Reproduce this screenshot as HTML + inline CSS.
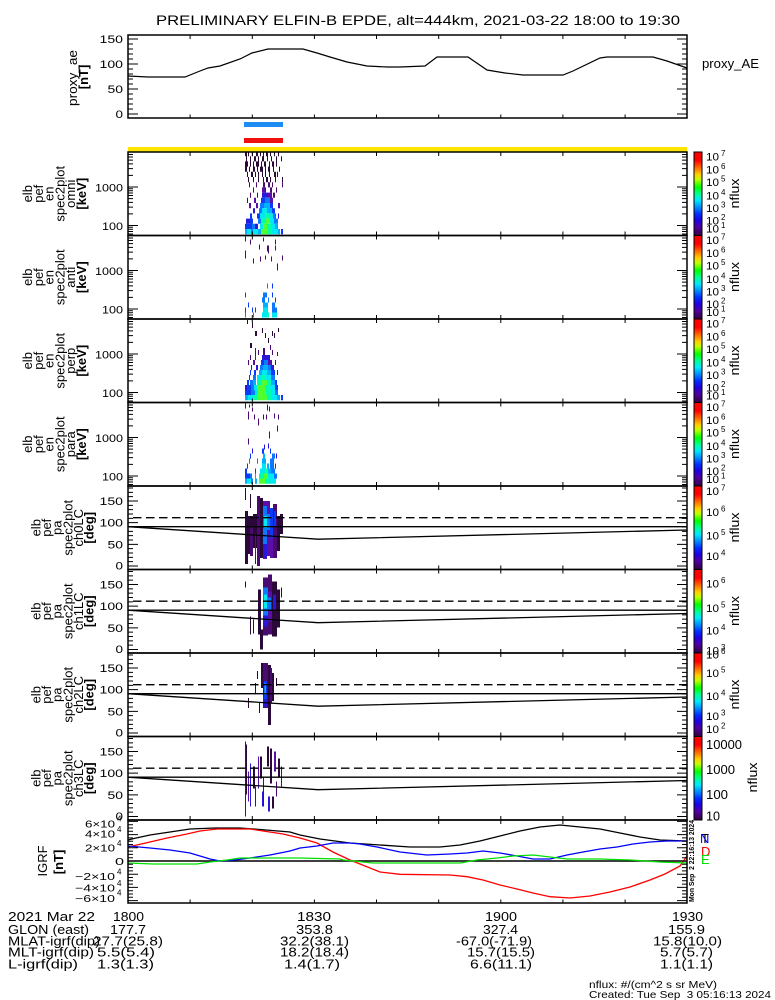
<!DOCTYPE html>
<html><head><meta charset="utf-8"><style>
html,body{margin:0;padding:0;background:#fff;}
svg{display:block;}
text{font-family:"Liberation Sans",sans-serif;fill:#000;}
.k0{fill:#2a0838}.k1{fill:#4a0a70}.k2{fill:#5a10a8}.k3{fill:#2a18d8}.k4{fill:#0a3cf8}
.k5{fill:#0a78ff}.k6{fill:#00b0ff}.k7{fill:#00e8f0}.k8{fill:#00ffa8}.k9{fill:#50ff30}
.rl{font-size:13px;text-anchor:middle;}
.ub{font-size:13px;text-anchor:middle;font-weight:bold;}
.tl{font-size:11px;text-anchor:end;}
.cb{font-size:11px;}
.ce{font-size:8px;}
.ie{font-size:8px;}
.nf{font-size:13px;text-anchor:middle;}
.bt{font-size:13px;}
</style></head><body>
<svg width="775" height="1000" viewBox="0 0 775 1000" xmlns="http://www.w3.org/2000/svg">
<defs>
<linearGradient id="cb" x1="0" y1="0" x2="0" y2="1">
<stop offset="0" stop-color="#ff0000"/>
<stop offset="0.10" stop-color="#ff0000"/>
<stop offset="0.18" stop-color="#ff6000"/>
<stop offset="0.27" stop-color="#ffd000"/>
<stop offset="0.33" stop-color="#c0ff00"/>
<stop offset="0.42" stop-color="#00ff00"/>
<stop offset="0.50" stop-color="#00ff90"/>
<stop offset="0.58" stop-color="#00e8ff"/>
<stop offset="0.66" stop-color="#0090ff"/>
<stop offset="0.74" stop-color="#0030ff"/>
<stop offset="0.82" stop-color="#2000e0"/>
<stop offset="0.90" stop-color="#5000a0"/>
<stop offset="1" stop-color="#300040"/>
</linearGradient>
<path id="tx" d="M190.1 0v4M252.3 0v4M314.4 0v4M376.5 0v4M438.7 0v4M500.8 0v4M562.9 0v4M625.1 0v4M190.1 83.5v-4M252.3 83.5v-4M314.4 83.5v-4M376.5 83.5v-4M438.7 83.5v-4M500.8 83.5v-4M562.9 83.5v-4M625.1 83.5v-4"/>
<path id="te" d="M128 73.5h10M128 35h10M128 82.05h5M128 79.46h5M128 77.23h5M128 75.26h5M128 61.91h5M128 55.13h5M128 50.32h5M128 46.59h5M128 43.55h5M128 40.97h5M128 38.73h5M128 36.77h5M128 23.41h5M128 16.63h5M128 11.82h5M128 8.09h5M128 5.05h5M128 2.47h5M687 73.5h-10M687 35h-10M687 82.05h-5M687 79.46h-5M687 77.23h-5M687 75.26h-5M687 61.91h-5M687 55.13h-5M687 50.32h-5M687 46.59h-5M687 43.55h-5M687 40.97h-5M687 38.73h-5M687 36.77h-5M687 23.41h-5M687 16.63h-5M687 11.82h-5M687 8.09h-5M687 5.05h-5M687 2.47h-5"/>
<path id="tp" d="M128 80h10M128 58.33h10M128 36.67h10M128 15h10M128 75.67h5M128 71.33h5M128 67h5M128 62.67h5M128 54h5M128 49.67h5M128 45.33h5M128 41h5M128 32.33h5M128 28h5M128 23.67h5M128 19.33h5M128 10.67h5M128 6.33h5M128 2h5M687 80h-10M687 58.33h-10M687 36.67h-10M687 15h-10M687 75.67h-5M687 71.33h-5M687 67h-5M687 62.67h-5M687 54h-5M687 49.67h-5M687 45.33h-5M687 41h-5M687 32.33h-5M687 28h-5M687 23.67h-5M687 19.33h-5M687 10.67h-5M687 6.33h-5M687 2h-5"/>
</defs>

<!-- Title -->
<text x="156" y="25" font-size="14" textLength="524" lengthAdjust="spacingAndGlyphs">PRELIMINARY ELFIN-B EPDE, alt=444km, 2021-03-22 18:00 to 19:30</text>

<!-- Top AE panel -->
<polyline fill="none" stroke="#000" stroke-width="1.2" points="128,76 148,77 185,77 200,71 208,68 220,66 240,59 252,53 268,49 303,49 317,53 330,57 347,62 367,66 387,67 400,67 425,66 437,57 468,57 487,70 505,73 523,75 563,75 573,71 600,58 607,57 653,57 667,61 687,68"/>
<g stroke="#000" stroke-width="1">
<path d="M128 114h10M128 89h10M128 64h10M128 39h10M128 109h5M128 104h5M128 99h5M128 94h5M128 84h5M128 79h5M128 74h5M128 69h5M128 59h5M128 54h5M128 49h5M128 44h5M687 114h-10M687 89h-10M687 64h-10M687 39h-10M687 109h-5M687 104h-5M687 99h-5M687 94h-5M687 84h-5M687 79h-5M687 74h-5M687 69h-5M687 59h-5M687 54h-5M687 49h-5M687 44h-5"/>
<use href="#tx" transform="translate(0,35)"/>
</g>
<rect x="128" y="35" width="559" height="83" fill="none" stroke="#000" stroke-width="1.5"/>
<text class="tl" x="123" y="43" textLength="23.5" lengthAdjust="spacingAndGlyphs">150</text>
<text class="tl" x="123" y="68" textLength="23.5" lengthAdjust="spacingAndGlyphs">100</text>
<text class="tl" x="123" y="93" textLength="15.5" lengthAdjust="spacingAndGlyphs">50</text>
<text class="tl" x="123" y="118" textLength="7.5" lengthAdjust="spacingAndGlyphs">0</text>
<text class="rl" transform="translate(77,78) rotate(-90)" textLength="56" lengthAdjust="spacingAndGlyphs">proxy_ae</text>
<text class="ub" transform="translate(88,77) rotate(-90)">[nT]</text>
<text x="702" y="68" font-size="13" textLength="57" lengthAdjust="spacingAndGlyphs">proxy_AE</text>

<!-- bars -->
<rect x="244" y="122" width="39" height="5" fill="#1e8cf5"/>
<rect x="244" y="138" width="39" height="5" fill="#f01010"/>
<rect x="128" y="147" width="559" height="5" fill="#ffe400"/>

<!-- Panel 1 omni -->
<g transform="translate(0,152)">
<path class="k0" d="M245 0h2v4.2h-2zM248 0h1v4.2h-1zM252 0h1v4.2h-1zM256 0h2v4.2h-2zM260 0h1v4.2h-1zM263 0h1v4.2h-1zM266 0h2v4.2h-2zM270 0h1v4.2h-1zM274 0h1v4.2h-1zM278 0h1v4.2h-1zM246 4.2h1v5.2h-1zM250 4.2h1v5.2h-1zM254 4.2h2v5.2h-2zM258 4.2h1v5.2h-1zM262 4.2h2v5.2h-2zM267 4.2h1v5.2h-1zM271 4.2h1v5.2h-1zM276 4.2h1v5.2h-1zM281 4.2h1v5.2h-1zM245 9.4h3v5.2h-3zM250 9.4h1v5.2h-1zM253 9.4h1v5.2h-1zM256 9.4h3v5.2h-3zM261 9.4h1v5.2h-1zM264 9.4h2v5.2h-2zM269 9.4h1v5.2h-1zM272 9.4h2v5.2h-2zM276 9.4h1v5.2h-1zM245 14.6h2v5.2h-2zM249 14.6h1v5.2h-1zM253 14.6h2v5.2h-2zM257 14.6h1v5.2h-1zM260 14.6h3v5.2h-3zM265 14.6h1v5.2h-1zM268 14.6h2v5.2h-2zM273 14.6h1v5.2h-1zM279 14.6h1v5.2h-1zM247 19.8h1v5.2h-1zM251 19.8h2v5.2h-2zM255 19.8h1v5.2h-1zM258 19.8h1v5.2h-1zM262 19.8h1v5.2h-1zM265 19.8h1v5.2h-1zM269 19.8h1v5.2h-1zM274 19.8h2v5.2h-2zM277 19.8h1v5.2h-1zM248 25h1v5.2h-1zM253 25h1v5.2h-1zM258 25h1v5.2h-1zM263 25h1v5.2h-1zM266 25h2v5.2h-2zM270 25h1v5.2h-1zM275 25h1v5.2h-1zM282 25h1v5.2h-1z"/>
<path class="k1" d="M249 30.2h1v5.2h-1zM256 30.2h1v5.2h-1zM263 30.2h2v5.2h-2zM268 30.2h2v5.2h-2zM272 30.2h1v5.2h-1zM282 30.2h1v5.2h-1zM253 35.4h1v5.2h-1zM265 35.4h1v5.2h-1zM270 35.4h2v5.2h-2zM276 35.4h1v5.2h-1zM250 40.6h1v5.2h-1zM257 40.6h1v5.2h-1zM273 40.6h2v5.2h-2zM247 45.8h1v5.2h-1z"/>
<path class="k2" d="M262 35.4h3v5.2h-3zM268 40.6h4v5.2h-4zM254 45.8h2v5.2h-2zM270 45.8h3v5.2h-3zM249 51h2v5.2h-2zM256 51h2v5.2h-2zM278 51h2v5.2h-2z"/>
<path class="k3" d="M262 40.6h6v5.2h-6zM253 56.2h2v5.2h-2zM278 61.4h1v5.2h-1zM246 66.6h4v5.2h-4zM255 71.8h3v5.2h-3z"/>
<path class="k4" d="M261 45.8h4v5.2h-4zM270 51h3v5.2h-3zM272 56.2h3v5.2h-3zM250 61.4h2v5.2h-2zM257 61.4h3v5.2h-3zM250 66.6h3v5.2h-3zM245 71.8h7v5.2h-7zM281 77h2v5.2h-2z"/>
<path class="k5" d="M265 45.8h5v5.2h-5zM260 51h4v5.2h-4zM259 56.2h3v5.2h-3zM273 61.4h3v5.2h-3zM258 66.6h3v5.2h-3zM274 66.6h4v5.2h-4zM252 71.8h3v5.2h-3zM251 77h2v5.2h-2z"/>
<path class="k6" d="M264 51h6v5.2h-6zM267 56.2h5v5.2h-5zM275 71.8h3v5.2h-3zM245 77h2v5.2h-2zM258 77h3v5.2h-3zM278 77h2v5.2h-2z"/>
<path class="k7" d="M262 56.2h5v5.2h-5zM260 61.4h5v5.2h-5zM269 61.4h4v5.2h-4zM270 66.6h4v5.2h-4zM260 71.8h3v5.2h-3zM271 71.8h4v5.2h-4zM247 77h4v5.2h-4zM253 77h5v5.2h-5zM272 77h6v5.2h-6z"/>
<path class="k8" d="M265 61.4h4v5.2h-4zM261 66.6h5v5.2h-5zM267 71.8h4v5.2h-4zM268 77h4v5.2h-4z"/>
<path class="k9" d="M266 66.6h4v5.2h-4zM263 71.8h4v5.2h-4zM261 77h7v5.2h-7z"/>
<g stroke="#000" stroke-width="1"><use href="#te"/><use href="#tx"/></g>
<rect x="128" y="0" width="559" height="83.5" fill="none" stroke="#000" stroke-width="1.5"/>
<text class="tl" x="123" y="39.5" textLength="28" lengthAdjust="spacingAndGlyphs">1000</text>
<text class="tl" x="123" y="78" textLength="21" lengthAdjust="spacingAndGlyphs">100</text>
<text class="rl" transform="translate(32,41.75) rotate(-90)">elb</text>
<text class="rl" transform="translate(42.8,41.75) rotate(-90)">pef</text>
<text class="rl" transform="translate(53.6,41.75) rotate(-90)">en</text>
<text class="rl" transform="translate(64.4,41.75) rotate(-90)">spec2plot</text>
<text class="rl" transform="translate(75.2,41.75) rotate(-90)">omni</text>
<text class="ub" transform="translate(86,41.75) rotate(-90)">[keV]</text>
<rect x="694" y="0" width="8" height="83.5" fill="url(#cb)" stroke="#000" stroke-width="1"/>
<text class="cb" x="706" y="8.5" textLength="13" lengthAdjust="spacingAndGlyphs">10</text><text class="ce" x="721" y="4">7</text>
<text class="cb" x="706" y="21.5" textLength="13" lengthAdjust="spacingAndGlyphs">10</text><text class="ce" x="721" y="17">6</text>
<text class="cb" x="706" y="34" textLength="13" lengthAdjust="spacingAndGlyphs">10</text><text class="ce" x="721" y="29.5">5</text>
<text class="cb" x="706" y="47.5" textLength="13" lengthAdjust="spacingAndGlyphs">10</text><text class="ce" x="721" y="43">4</text>
<text class="cb" x="706" y="60" textLength="13" lengthAdjust="spacingAndGlyphs">10</text><text class="ce" x="721" y="55.5">3</text>
<text class="cb" x="706" y="72.5" textLength="13" lengthAdjust="spacingAndGlyphs">10</text><text class="ce" x="721" y="68">2</text>
<text class="cb" x="706" y="80.5" textLength="13" lengthAdjust="spacingAndGlyphs">10</text><text class="ce" x="721" y="76">1</text>
<text class="nf" transform="translate(739,41.5) rotate(-90)" textLength="30" lengthAdjust="spacingAndGlyphs">nflux</text>
</g>

<!-- Panel 2 anti -->
<g transform="translate(0,235.5)">
<path class="k1" d="M245 1h1v5h-1zM250 4h1v5h-1zM259 9h1v5h-1zM263 2h1v4h-1zM267 10h2v6h-2zM275 4h1v5h-1zM275 10h1v5h-1zM277 28h1v7h-1zM245 15h1v8h-1zM253 23h1v5h-1zM260 21h1v5h-1zM265 20h1v4h-1zM268 14h1v4h-1zM271 21h1v5h-1zM282 20h1v5h-1z"/>
<path class="k4" d="M272 48h1v5h-1zM245 57h1v5h-1zM272 57h1v5h-1zM275 62h1v5h-1zM248 67h1v5h-1zM245 72h1v5h-1zM252 72h1v5h-1zM255 72h1v5h-1z"/>
<path class="k5" d="M267 48h1v5h-1zM263 57h4v5h-4zM262 62h3v5h-3zM268 62h1v5h-1zM272 67h3v5h-3zM272 72h5v5h-5zM245 77h1v5h-1zM253 77h1v5h-1z"/>
<path class="k6" d="M263 67h5v5h-5z"/>
<path class="k7" d="M263 72h5v5h-5zM262 77h5v5h-5zM272 77h5v5h-5z"/>
<path class="k8" d="M267 77h2v5h-2z"/>
<g stroke="#000" stroke-width="1"><use href="#te"/><use href="#tx"/></g>
<rect x="128" y="0" width="559" height="83.5" fill="none" stroke="#000" stroke-width="1.5"/>
<text class="tl" x="123" y="39.5" textLength="28" lengthAdjust="spacingAndGlyphs">1000</text>
<text class="tl" x="123" y="78" textLength="21" lengthAdjust="spacingAndGlyphs">100</text>
<text class="rl" transform="translate(32,41.75) rotate(-90)">elb</text>
<text class="rl" transform="translate(42.8,41.75) rotate(-90)">pef</text>
<text class="rl" transform="translate(53.6,41.75) rotate(-90)">en</text>
<text class="rl" transform="translate(64.4,41.75) rotate(-90)">spec2plot</text>
<text class="rl" transform="translate(75.2,41.75) rotate(-90)">anti</text>
<text class="ub" transform="translate(86,41.75) rotate(-90)">[keV]</text>
<rect x="694" y="0" width="8" height="83.5" fill="url(#cb)" stroke="#000" stroke-width="1"/>
<text class="cb" x="706" y="8.5" textLength="13" lengthAdjust="spacingAndGlyphs">10</text><text class="ce" x="721" y="4">7</text>
<text class="cb" x="706" y="21.5" textLength="13" lengthAdjust="spacingAndGlyphs">10</text><text class="ce" x="721" y="17">6</text>
<text class="cb" x="706" y="34" textLength="13" lengthAdjust="spacingAndGlyphs">10</text><text class="ce" x="721" y="29.5">5</text>
<text class="cb" x="706" y="47.5" textLength="13" lengthAdjust="spacingAndGlyphs">10</text><text class="ce" x="721" y="43">4</text>
<text class="cb" x="706" y="60" textLength="13" lengthAdjust="spacingAndGlyphs">10</text><text class="ce" x="721" y="55.5">3</text>
<text class="cb" x="706" y="72.5" textLength="13" lengthAdjust="spacingAndGlyphs">10</text><text class="ce" x="721" y="68">2</text>
<text class="cb" x="706" y="80.5" textLength="13" lengthAdjust="spacingAndGlyphs">10</text><text class="ce" x="721" y="76">1</text>
<text class="nf" transform="translate(739,41.5) rotate(-90)" textLength="30" lengthAdjust="spacingAndGlyphs">nflux</text>
</g>

<!-- Panel 3 perp -->
<g transform="translate(0,319)">
<path class="k0" d="M247 1h1v4h-1zM252 4h1v5h-1zM255 12h2v5h-2zM262 9h1v5h-1zM265 14h1v5h-1zM268 19h1v5h-1zM272 12h1v5h-1zM274 14h1v5h-1zM278 9h1v4h-1zM250 24h2v5h-2z"/>
<path class="k1" d="M255 29h1v7h-1zM258 31h1v5h-1zM263 29h2v7h-2zM270 26h1v5h-1zM272 31h1v5h-1zM277 33h1v4h-1zM250 36h1v5h-1zM248 41h1v5h-1zM275 41h1v5h-1z"/>
<path class="k2" d="M255 36h1v5h-1zM253 41h2v5h-2zM268 41h4v5h-4zM277 51h1v5h-1z"/>
<path class="k3" d="M262 36h8v5.2h-8zM251 46h1v5.2h-1zM256 46h2v5.2h-2zM271 46h3v5.2h-3zM245 66h2v5.2h-2z"/>
<path class="k4" d="M261 41h3v5.2h-3zM250 51h1v5.2h-1zM254 51h2v5.2h-2zM271 51h4v5.2h-4zM249 56h1v5.2h-1zM247 61h2v5.2h-2zM275 61h2v5.2h-2zM247 66h4v5.2h-4zM275 66h3v5.2h-3zM245 71h6v5.2h-6zM281 76h2v5.2h-2z"/>
<path class="k5" d="M264 41h4v5.2h-4zM260 46h3v5.2h-3zM268 46h3v5.2h-3zM253 56h3v5.2h-3zM271 56h4v5.2h-4zM250 61h3v5.2h-3zM251 66h3v5.2h-3zM251 71h4v5.2h-4zM275 71h3v5.2h-3z"/>
<path class="k6" d="M263 46h5v5.2h-5zM259 51h3v5.2h-3zM267 51h4v5.2h-4zM253 61h3v5.2h-3zM271 61h4v5.2h-4zM245 76h3v5.2h-3zM277 76h3v5.2h-3z"/>
<path class="k7" d="M262 51h5v5.2h-5zM257 56h4v5.2h-4zM266 56h5v5.2h-5zM254 66h3v5.2h-3zM270 66h5v5.2h-5zM255 71h3v5.2h-3zM271 71h4v5.2h-4zM248 76h5v5.2h-5zM272 76h5v5.2h-5z"/>
<path class="k8" d="M261 56h5v5.2h-5zM257 61h5v5.2h-5zM267 61h4v5.2h-4zM265 66h5v5.2h-5zM266 71h5v5.2h-5zM253 76h4v5.2h-4zM267 76h5v5.2h-5z"/>
<path class="k9" d="M262 61h5v5.2h-5zM257 66h8v5.2h-8zM258 71h8v5.2h-8zM257 76h10v5.2h-10z"/>
<g stroke="#000" stroke-width="1"><use href="#te"/><use href="#tx"/></g>
<rect x="128" y="0" width="559" height="83.5" fill="none" stroke="#000" stroke-width="1.5"/>
<text class="tl" x="123" y="39.5" textLength="28" lengthAdjust="spacingAndGlyphs">1000</text>
<text class="tl" x="123" y="78" textLength="21" lengthAdjust="spacingAndGlyphs">100</text>
<text class="rl" transform="translate(32,41.75) rotate(-90)">elb</text>
<text class="rl" transform="translate(42.8,41.75) rotate(-90)">pef</text>
<text class="rl" transform="translate(53.6,41.75) rotate(-90)">en</text>
<text class="rl" transform="translate(64.4,41.75) rotate(-90)">spec2plot</text>
<text class="rl" transform="translate(75.2,41.75) rotate(-90)">perp</text>
<text class="ub" transform="translate(86,41.75) rotate(-90)">[keV]</text>
<rect x="694" y="0" width="8" height="83.5" fill="url(#cb)" stroke="#000" stroke-width="1"/>
<text class="cb" x="706" y="8.5" textLength="13" lengthAdjust="spacingAndGlyphs">10</text><text class="ce" x="721" y="4">7</text>
<text class="cb" x="706" y="21.5" textLength="13" lengthAdjust="spacingAndGlyphs">10</text><text class="ce" x="721" y="17">6</text>
<text class="cb" x="706" y="34" textLength="13" lengthAdjust="spacingAndGlyphs">10</text><text class="ce" x="721" y="29.5">5</text>
<text class="cb" x="706" y="47.5" textLength="13" lengthAdjust="spacingAndGlyphs">10</text><text class="ce" x="721" y="43">4</text>
<text class="cb" x="706" y="60" textLength="13" lengthAdjust="spacingAndGlyphs">10</text><text class="ce" x="721" y="55.5">3</text>
<text class="cb" x="706" y="72.5" textLength="13" lengthAdjust="spacingAndGlyphs">10</text><text class="ce" x="721" y="68">2</text>
<text class="cb" x="706" y="80.5" textLength="13" lengthAdjust="spacingAndGlyphs">10</text><text class="ce" x="721" y="76">1</text>
<text class="nf" transform="translate(739,41.5) rotate(-90)" textLength="30" lengthAdjust="spacingAndGlyphs">nflux</text>
</g>

<!-- Panel 4 para -->
<g transform="translate(0,402.5)">
<path class="k1" d="M245 1h1v5h-1zM249 2h1v3h-1zM252 5h1v4h-1zM267 2h1v6h-1zM269 4h1v5h-1zM248 9h1v8h-1zM254 12h1v5h-1zM258 16h1v7h-1zM263 12h1v5h-1zM266 12h1v5h-1zM274 11h1v5h-1zM278 12h1v5h-1zM277 23h1v6h-1zM269 29h1v7h-1zM248 36h1v6h-1z"/>
<path class="k3" d="M264 42h1v5h-1zM268 41h1v5h-1zM252 46h1v5h-1zM276 51h1v5h-1z"/>
<path class="k4" d="M262 46h2v5.2h-2zM270 46h1v5.2h-1zM250 51h1v5.2h-1zM247 61h1v5.2h-1zM275 61h1v5.2h-1zM245 66h2v5.2h-2zM255 66h1v5.2h-1zM245 71h5v5.2h-5z"/>
<path class="k5" d="M272 51h3v5.2h-3zM249 56h1v5.2h-1zM257 56h1v5.2h-1zM270 56h4v5.2h-4zM270 61h4v5.2h-4zM271 66h4v5.2h-4zM250 71h2v5.2h-2zM274 71h3v5.2h-3zM251 76h2v5.2h-2z"/>
<path class="k6" d="M263 51h2v5.2h-2zM262 56h4v5.2h-4zM267 61h2v5.2h-2zM268 66h3v5.2h-3zM255 71h1v5.2h-1zM245 76h2v5.2h-2zM255 76h2v5.2h-2z"/>
<path class="k7" d="M262 61h4v5.2h-4zM260 66h5v5.2h-5zM268 71h6v5.2h-6zM247 76h4v5.2h-4zM269 76h7v5.2h-7z"/>
<path class="k8" d="M265 66h3v5.2h-3zM259 71h5v5.2h-5zM265 76h4v5.2h-4z"/>
<path class="k9" d="M264 71h4v5.2h-4zM259 76h6v5.2h-6z"/>
<g stroke="#000" stroke-width="1"><use href="#te"/><use href="#tx"/></g>
<rect x="128" y="0" width="559" height="83.5" fill="none" stroke="#000" stroke-width="1.5"/>
<text class="tl" x="123" y="39.5" textLength="28" lengthAdjust="spacingAndGlyphs">1000</text>
<text class="tl" x="123" y="78" textLength="21" lengthAdjust="spacingAndGlyphs">100</text>
<text class="rl" transform="translate(32,41.75) rotate(-90)">elb</text>
<text class="rl" transform="translate(42.8,41.75) rotate(-90)">pef</text>
<text class="rl" transform="translate(53.6,41.75) rotate(-90)">en</text>
<text class="rl" transform="translate(64.4,41.75) rotate(-90)">spec2plot</text>
<text class="rl" transform="translate(75.2,41.75) rotate(-90)">para</text>
<text class="ub" transform="translate(86,41.75) rotate(-90)">[keV]</text>
<rect x="694" y="0" width="8" height="83.5" fill="url(#cb)" stroke="#000" stroke-width="1"/>
<text class="cb" x="706" y="8.5" textLength="13" lengthAdjust="spacingAndGlyphs">10</text><text class="ce" x="721" y="4">7</text>
<text class="cb" x="706" y="21.5" textLength="13" lengthAdjust="spacingAndGlyphs">10</text><text class="ce" x="721" y="17">6</text>
<text class="cb" x="706" y="34" textLength="13" lengthAdjust="spacingAndGlyphs">10</text><text class="ce" x="721" y="29.5">5</text>
<text class="cb" x="706" y="47.5" textLength="13" lengthAdjust="spacingAndGlyphs">10</text><text class="ce" x="721" y="43">4</text>
<text class="cb" x="706" y="60" textLength="13" lengthAdjust="spacingAndGlyphs">10</text><text class="ce" x="721" y="55.5">3</text>
<text class="cb" x="706" y="72.5" textLength="13" lengthAdjust="spacingAndGlyphs">10</text><text class="ce" x="721" y="68">2</text>
<text class="cb" x="706" y="80.5" textLength="13" lengthAdjust="spacingAndGlyphs">10</text><text class="ce" x="721" y="76">1</text>
<text class="nf" transform="translate(739,41.5) rotate(-90)" textLength="30" lengthAdjust="spacingAndGlyphs">nflux</text>
</g>

<!-- Panel 5 ch0LC -->
<g transform="translate(0,486)">
<path class="k0" d="M245 25h3v53h-3zM248 30h5v38h-5zM253 28h4v34h-4zM260 12h3v60h-3zM277 30h3v35h-3zM280 28h3v20h-3zM245 2h1v12h-1zM250 8h1v14h-1z"/>
<path class="k1" d="M250 40h3v30h-3zM257 10h3v70h-3zM273 18h4v54h-4zM255 60h1v18h-1z"/>
<path class="k2" d="M263 15h4v58h-4zM267 15h3v55h-3zM270 50h3v22h-3z"/>
<path class="k3" d="M255 48h1v22h-1zM263 58h4v14h-4z"/>
<path class="k4" d="M270 22h3v30h-3zM274 25h2v15h-2z"/>
<path class="k5" d="M263 20h4v38h-4zM267 28h3v16h-3z"/>
<path class="k7" d="M264 30h3v12h-3z"/>
<path class="k8" d="M265 33h1v6h-1z"/>
<path d="M128 40.7H687" stroke="#000" stroke-width="1.3"/>
<path d="M133 31.7H687" stroke="#000" stroke-width="1.3" stroke-dasharray="8.5 4.5"/>
<path d="M128 40.7L318 53.2L687 44" stroke="#000" stroke-width="1.3" fill="none"/>
<g stroke="#000" stroke-width="1"><use href="#tp"/><use href="#tx"/></g>
<rect x="128" y="0" width="559" height="83.5" fill="none" stroke="#000" stroke-width="1.5"/>
<text class="tl" x="123" y="19" textLength="23.5" lengthAdjust="spacingAndGlyphs">150</text>
<text class="tl" x="123" y="40.7" textLength="23.5" lengthAdjust="spacingAndGlyphs">100</text>
<text class="tl" x="123" y="62.5" textLength="15.5" lengthAdjust="spacingAndGlyphs">50</text>
<text class="tl" x="123" y="83.5" textLength="7.5" lengthAdjust="spacingAndGlyphs">0</text>
<text class="rl" transform="translate(40.5,41.75) rotate(-90)">elb</text>
<text class="rl" transform="translate(51.1,41.75) rotate(-90)">pef</text>
<text class="rl" transform="translate(61.7,41.75) rotate(-90)">pa</text>
<text class="rl" transform="translate(72.3,41.75) rotate(-90)">spec2plot</text>
<text class="rl" transform="translate(82.9,41.75) rotate(-90)">ch0LC</text>
<text class="ub" transform="translate(93.5,41.75) rotate(-90)">[deg]</text>
<rect x="694" y="0" width="8" height="83.5" fill="url(#cb)" stroke="#000" stroke-width="1"/>
<text class="cb" x="706" y="9" textLength="13" lengthAdjust="spacingAndGlyphs">10</text><text class="ce" x="721" y="4.5">7</text>
<text class="cb" x="706" y="30" textLength="13" lengthAdjust="spacingAndGlyphs">10</text><text class="ce" x="721" y="25.5">6</text>
<text class="cb" x="706" y="53.5" textLength="13" lengthAdjust="spacingAndGlyphs">10</text><text class="ce" x="721" y="49">5</text>
<text class="cb" x="706" y="74" textLength="13" lengthAdjust="spacingAndGlyphs">10</text><text class="ce" x="721" y="69.5">4</text>
<text class="nf" transform="translate(739,41.5) rotate(-90)" textLength="30" lengthAdjust="spacingAndGlyphs">nflux</text>
</g>

<!-- Panel 6 ch1LC -->
<g transform="translate(0,569.5)">
<path class="k0" d="M245 12h1v6h-1zM250 47h1v18h-1zM253 50h1v14h-1zM258 20h3v45h-3zM272 12h5v55h-5zM277 20h3v38h-3zM260 60h3v20h-3zM281 18h1v10h-1zM266 8h2v6h-2z"/>
<path class="k1" d="M263 8h5v58h-5zM268 5h4v60h-4z"/>
<path class="k2" d="M268 22h4v30h-4z"/>
<path class="k3" d="M273 25h3v15h-3zM263 45h5v12h-5z"/>
<path class="k5" d="M263 18h5v28h-5zM268 28h3v12h-3z"/>
<path class="k7" d="M264 25h3v14h-3z"/>
<path class="k8" d="M265 29h1v5h-1z"/>
<path d="M128 40.7H687" stroke="#000" stroke-width="1.3"/>
<path d="M133 31.7H687" stroke="#000" stroke-width="1.3" stroke-dasharray="8.5 4.5"/>
<path d="M128 40.7L318 53.2L687 44" stroke="#000" stroke-width="1.3" fill="none"/>
<g stroke="#000" stroke-width="1"><use href="#tp"/><use href="#tx"/></g>
<rect x="128" y="0" width="559" height="83.5" fill="none" stroke="#000" stroke-width="1.5"/>
<text class="tl" x="123" y="19" textLength="23.5" lengthAdjust="spacingAndGlyphs">150</text>
<text class="tl" x="123" y="40.7" textLength="23.5" lengthAdjust="spacingAndGlyphs">100</text>
<text class="tl" x="123" y="62.5" textLength="15.5" lengthAdjust="spacingAndGlyphs">50</text>
<text class="tl" x="123" y="83.5" textLength="7.5" lengthAdjust="spacingAndGlyphs">0</text>
<text class="rl" transform="translate(40.5,41.75) rotate(-90)">elb</text>
<text class="rl" transform="translate(51.1,41.75) rotate(-90)">pef</text>
<text class="rl" transform="translate(61.7,41.75) rotate(-90)">pa</text>
<text class="rl" transform="translate(72.3,41.75) rotate(-90)">spec2plot</text>
<text class="rl" transform="translate(82.9,41.75) rotate(-90)">ch1LC</text>
<text class="ub" transform="translate(93.5,41.75) rotate(-90)">[deg]</text>
<rect x="694" y="0" width="8" height="83.5" fill="url(#cb)" stroke="#000" stroke-width="1"/>
<text class="cb" x="706" y="18" textLength="13" lengthAdjust="spacingAndGlyphs">10</text><text class="ce" x="721" y="13.5">6</text>
<text class="cb" x="706" y="42.5" textLength="13" lengthAdjust="spacingAndGlyphs">10</text><text class="ce" x="721" y="38">5</text>
<text class="cb" x="706" y="65" textLength="13" lengthAdjust="spacingAndGlyphs">10</text><text class="ce" x="721" y="60.5">4</text>
<text class="cb" x="706" y="85" textLength="13" lengthAdjust="spacingAndGlyphs">10</text><text class="ce" x="721" y="80.5">3</text>
<text class="nf" transform="translate(739,41.5) rotate(-90)" textLength="30" lengthAdjust="spacingAndGlyphs">nflux</text>
</g>

<!-- Panel 7 ch2LC -->
<g transform="translate(0,653)">
<path class="k0" d="M248 45h1v10h-1zM257 18h1v8h-1zM261 10h2v25h-2zM268 12h3v60h-3zM272 20h2v28h-2zM255 30h1v10h-1zM276 25h1v8h-1zM259 50h1v10h-1z"/>
<path class="k1" d="M263 10h5v45h-5zM270 15h2v35h-2z"/>
<path class="k3" d="M263 42h4v12h-4z"/>
<path class="k4" d="M264 28h3v18h-3z"/>
<path class="k5" d="M264 30h2v12h-2z"/>
<path class="k6" d="M265 32h1v8h-1z"/>
<path d="M128 40.7H687" stroke="#000" stroke-width="1.3"/>
<path d="M133 31.7H687" stroke="#000" stroke-width="1.3" stroke-dasharray="8.5 4.5"/>
<path d="M128 40.7L318 53.2L687 44" stroke="#000" stroke-width="1.3" fill="none"/>
<g stroke="#000" stroke-width="1"><use href="#tp"/><use href="#tx"/></g>
<rect x="128" y="0" width="559" height="83.5" fill="none" stroke="#000" stroke-width="1.5"/>
<text class="tl" x="123" y="19" textLength="23.5" lengthAdjust="spacingAndGlyphs">150</text>
<text class="tl" x="123" y="40.7" textLength="23.5" lengthAdjust="spacingAndGlyphs">100</text>
<text class="tl" x="123" y="62.5" textLength="15.5" lengthAdjust="spacingAndGlyphs">50</text>
<text class="tl" x="123" y="83.5" textLength="7.5" lengthAdjust="spacingAndGlyphs">0</text>
<text class="rl" transform="translate(40.5,41.75) rotate(-90)">elb</text>
<text class="rl" transform="translate(51.1,41.75) rotate(-90)">pef</text>
<text class="rl" transform="translate(61.7,41.75) rotate(-90)">pa</text>
<text class="rl" transform="translate(72.3,41.75) rotate(-90)">spec2plot</text>
<text class="rl" transform="translate(82.9,41.75) rotate(-90)">ch2LC</text>
<text class="ub" transform="translate(93.5,41.75) rotate(-90)">[deg]</text>
<rect x="694" y="0" width="8" height="83.5" fill="url(#cb)" stroke="#000" stroke-width="1"/>
<text class="cb" x="706" y="5.5" textLength="13" lengthAdjust="spacingAndGlyphs">10</text><text class="ce" x="721" y="1">6</text>
<text class="cb" x="706" y="24" textLength="13" lengthAdjust="spacingAndGlyphs">10</text><text class="ce" x="721" y="19.5">5</text>
<text class="cb" x="706" y="47" textLength="13" lengthAdjust="spacingAndGlyphs">10</text><text class="ce" x="721" y="42.5">4</text>
<text class="cb" x="706" y="67" textLength="13" lengthAdjust="spacingAndGlyphs">10</text><text class="ce" x="721" y="62.5">3</text>
<text class="cb" x="706" y="80" textLength="13" lengthAdjust="spacingAndGlyphs">10</text><text class="ce" x="721" y="75.5">2</text>
<text class="nf" transform="translate(739,41.5) rotate(-90)" textLength="30" lengthAdjust="spacingAndGlyphs">nflux</text>
</g>

<!-- Panel 8 ch3LC -->
<g transform="translate(0,736.5)">
<path class="k0" d="M246 8h1v50h-1zM253 30h2v22h-2zM260 20h2v22h-2zM267 10h2v20h-2zM270 12h2v35h-2zM272 60h2v12h-2zM278 22h2v18h-2z"/>
<path class="k1" d="M245 5h1v75h-1zM255 50h1v20h-1zM263 40h1v30h-1zM276 45h1v15h-1zM281 30h1v20h-1z"/>
<path class="k2" d="M258 20h1v32h-1zM274 15h2v20h-2zM248 35h1v30h-1z"/>
<path class="k3" d="M250 27h1v43h-1zM268 60h2v15h-2zM262 55h1v15h-1z"/>
<path d="M128 40.7H687" stroke="#000" stroke-width="1.3"/>
<path d="M133 31.7H687" stroke="#000" stroke-width="1.3" stroke-dasharray="8.5 4.5"/>
<path d="M128 40.7L318 53.2L687 44" stroke="#000" stroke-width="1.3" fill="none"/>
<g stroke="#000" stroke-width="1"><use href="#tp"/><use href="#tx"/></g>
<rect x="128" y="0" width="559" height="83.5" fill="none" stroke="#000" stroke-width="1.5"/>
<text class="tl" x="123" y="19" textLength="23.5" lengthAdjust="spacingAndGlyphs">150</text>
<text class="tl" x="123" y="40.7" textLength="23.5" lengthAdjust="spacingAndGlyphs">100</text>
<text class="tl" x="123" y="62.5" textLength="15.5" lengthAdjust="spacingAndGlyphs">50</text>
<text class="tl" x="123" y="83.5" textLength="7.5" lengthAdjust="spacingAndGlyphs">0</text>
<text class="rl" transform="translate(40.5,41.75) rotate(-90)">elb</text>
<text class="rl" transform="translate(51.1,41.75) rotate(-90)">pef</text>
<text class="rl" transform="translate(61.7,41.75) rotate(-90)">pa</text>
<text class="rl" transform="translate(72.3,41.75) rotate(-90)">spec2plot</text>
<text class="rl" transform="translate(82.9,41.75) rotate(-90)">ch3LC</text>
<text class="ub" transform="translate(93.5,41.75) rotate(-90)">[deg]</text>
<rect x="694" y="0" width="8" height="83.5" fill="url(#cb)" stroke="#000" stroke-width="1"/>
<text x="706" y="12.5" font-size="13" textLength="36" lengthAdjust="spacingAndGlyphs">10000</text>
<text x="706" y="37.5" font-size="13" textLength="29" lengthAdjust="spacingAndGlyphs">1000</text>
<text x="706" y="62.5" font-size="13" textLength="22" lengthAdjust="spacingAndGlyphs">100</text>
<text x="706" y="84" font-size="13" textLength="14" lengthAdjust="spacingAndGlyphs">10</text>
<text class="nf" transform="translate(757,41) rotate(-90)" textLength="30" lengthAdjust="spacingAndGlyphs">nflux</text>
</g>

<!-- IGRF panel -->
<g>
<path d="M128 861H687" stroke="#000" stroke-width="1.5"/>
<polyline fill="none" stroke="#000" stroke-width="1.3" points="128,840 135,838.3 150,835 170,832 190,829 215,828 240,828 260,829.5 290,832 300,835 320,839 350,843 380,845 410,847 440,847 460,845 480,841 500,836 520,831 540,827 560,825 580,827 600,829 620,833 640,837 660,840 687,841"/>
<polyline fill="none" stroke="#ff0000" stroke-width="1.3" points="128,847 150,842 167,838 187,834 200,831 217,829 250,829 283,834 300,838 317,843 333,852 350,860 360,864 380,872 400,874.3 450,875 467,876.7 483,880 500,885 517,889 533,893 550,896.7 570,898 590,896 610,892 630,887 650,880 665,874 680,866 687,856"/>
<polyline fill="none" stroke="#0000ff" stroke-width="1.3" points="128,846 150,848 170,850 190,853 200,856 210,859 220,861 235,860 250,858 270,855 290,851 300,848 317,846 333,843 350,843 360,844 377,847 400,852 427,855 450,854 467,853 483,851 500,853 517,856 533,859 550,859 567,855 583,852 600,849 617,847 633,844 650,842 667,841 687,841"/>
<polyline fill="none" stroke="#00e000" stroke-width="1.3" points="128,863 153,864 197,864 210,862 227,860 240,858 300,858 340,859 343,860 373,863 437,863 460,863 477,860 497,858 513,856 533,855 550,857 567,859 600,859 630,860 660,862 687,863"/>
<g stroke="#000" stroke-width="1">
<path d="M128 861h10M128 847.8h10M128 834.6h10M128 821.4h10M128 874.2h10M128 887.4h10M128 900.6h10M128 824.7h5M128 828h5M128 831.3h5M128 837.9h5M128 841.2h5M128 844.5h5M128 851.1h5M128 854.4h5M128 857.7h5M128 864.3h5M128 867.6h5M128 870.9h5M128 877.5h5M128 880.8h5M128 884.1h5M128 890.7h5M128 894h5M128 897.3h5M687 861h-10M687 847.8h-10M687 834.6h-10M687 821.4h-10M687 874.2h-10M687 887.4h-10M687 900.6h-10M687 824.7h-5M687 828h-5M687 831.3h-5M687 837.9h-5M687 841.2h-5M687 844.5h-5M687 851.1h-5M687 854.4h-5M687 857.7h-5M687 864.3h-5M687 867.6h-5M687 870.9h-5M687 877.5h-5M687 880.8h-5M687 884.1h-5M687 890.7h-5M687 894h-5M687 897.3h-5"/>
<use href="#tx" transform="translate(0,820)"/>
</g>
<rect x="128" y="820" width="559" height="83" fill="none" stroke="#000" stroke-width="1.5"/>
<text x="85" y="827.7" font-size="10" textLength="30" lengthAdjust="spacingAndGlyphs">6×10</text><text class="ie" x="117" y="821.5">4</text>
<text x="85" y="837.7" font-size="10" textLength="30" lengthAdjust="spacingAndGlyphs">4×10</text><text class="ie" x="117" y="832">4</text>
<text x="85" y="851.7" font-size="10" textLength="30" lengthAdjust="spacingAndGlyphs">2×10</text><text class="ie" x="117" y="846">4</text>
<text x="115" y="865" font-size="10" textLength="9" lengthAdjust="spacingAndGlyphs">0</text>
<text x="75" y="880" font-size="10" textLength="40" lengthAdjust="spacingAndGlyphs">−2×10</text><text class="ie" x="117" y="874.5">4</text>
<text x="75" y="891.7" font-size="10" textLength="40" lengthAdjust="spacingAndGlyphs">−4×10</text><text class="ie" x="117" y="886">4</text>
<text x="75" y="902" font-size="10" textLength="40" lengthAdjust="spacingAndGlyphs">−6×10</text><text class="ie" x="117" y="895.5">4</text>
<text class="rl" transform="translate(47,861) rotate(-90)">IGRF</text>
<text class="ub" transform="translate(63,862) rotate(-90)">[nT]</text>
<text transform="translate(694,861) rotate(-90)" font-size="7" font-weight="bold" text-anchor="middle" textLength="82" lengthAdjust="spacingAndGlyphs">Mon Sep&#160; 2 22:16:13 2024</text>
<text x="701" y="843" font-size="13">T</text>
<text x="700" y="843" font-size="13" style="fill:#0000ff">N</text>
<text x="701" y="856" font-size="13" style="fill:#ff0000">D</text>
<text x="701" y="864" font-size="13" style="fill:#00e000">E</text>
</g>

<!-- Bottom annotation rows -->
<text class="bt" x="8" y="921" textLength="87" lengthAdjust="spacingAndGlyphs">2021 Mar 22</text>
<text class="bt" x="113" y="921" textLength="31" lengthAdjust="spacingAndGlyphs">1800</text>
<text class="bt" x="297" y="921" textLength="34" lengthAdjust="spacingAndGlyphs">1830</text>
<text class="bt" x="485" y="921" textLength="32" lengthAdjust="spacingAndGlyphs">1900</text>
<text class="bt" x="672" y="921" textLength="31" lengthAdjust="spacingAndGlyphs">1930</text>

<text class="bt" x="8" y="934" textLength="81" lengthAdjust="spacingAndGlyphs">GLON (east)</text>
<text class="bt" x="110" y="934" textLength="36" lengthAdjust="spacingAndGlyphs">177.7</text>
<text class="bt" x="296" y="934" textLength="37" lengthAdjust="spacingAndGlyphs">353.8</text>
<text class="bt" x="483" y="934" textLength="35" lengthAdjust="spacingAndGlyphs">327.4</text>
<text class="bt" x="668" y="934" textLength="37" lengthAdjust="spacingAndGlyphs">155.9</text>

<text class="bt" x="8" y="945.7" textLength="92" lengthAdjust="spacingAndGlyphs">MLAT-igrf(dip)</text>
<text class="bt" x="93" y="945.7" textLength="70" lengthAdjust="spacingAndGlyphs">27.7(25.8)</text>
<text class="bt" x="280" y="945.7" textLength="69" lengthAdjust="spacingAndGlyphs">32.2(38.1)</text>
<text class="bt" x="456" y="945.7" textLength="76" lengthAdjust="spacingAndGlyphs">-67.0(-71.9)</text>
<text class="bt" x="653" y="945.7" textLength="69" lengthAdjust="spacingAndGlyphs">15.8(10.0)</text>

<text class="bt" x="8" y="956.7" textLength="86" lengthAdjust="spacingAndGlyphs">MLT-igrf(dip)</text>
<text class="bt" x="97" y="956.7" textLength="58" lengthAdjust="spacingAndGlyphs">5.5(5.4)</text>
<text class="bt" x="280" y="956.7" textLength="69" lengthAdjust="spacingAndGlyphs">18.2(18.4)</text>
<text class="bt" x="467" y="956.7" textLength="68" lengthAdjust="spacingAndGlyphs">15.7(15.5)</text>
<text class="bt" x="660" y="956.7" textLength="53" lengthAdjust="spacingAndGlyphs">5.7(5.7)</text>

<text class="bt" x="8" y="968.3" textLength="70" lengthAdjust="spacingAndGlyphs">L-igrf(dip)</text>
<text class="bt" x="97" y="968.3" textLength="57" lengthAdjust="spacingAndGlyphs">1.3(1.3)</text>
<text class="bt" x="284" y="968.3" textLength="56" lengthAdjust="spacingAndGlyphs">1.4(1.7)</text>
<text class="bt" x="470" y="968.3" textLength="62" lengthAdjust="spacingAndGlyphs">6.6(11.1)</text>
<text class="bt" x="660" y="968.3" textLength="53" lengthAdjust="spacingAndGlyphs">1.1(1.1)</text>

<!-- Footer -->
<text x="589" y="988" font-size="10.5" textLength="128" lengthAdjust="spacingAndGlyphs">nflux: #/(cm^2 s sr MeV)</text>
<text x="589" y="998" font-size="10.5" textLength="182" lengthAdjust="spacingAndGlyphs">Created: Tue Sep&#160; 3 05:16:13 2024</text>
</svg>
</body></html>
